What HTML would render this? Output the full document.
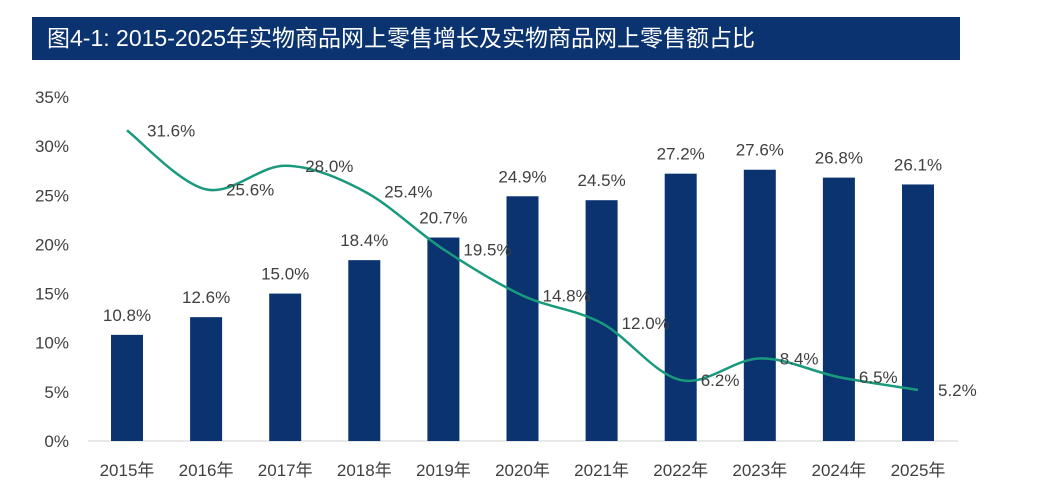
<!DOCTYPE html>
<html><head><meta charset="utf-8"><style>
body{margin:0;background:#fff;width:1053px;height:501px;overflow:hidden;font-family:"Liberation Sans","Noto Sans CJK SC",sans-serif}
#title{position:absolute;left:32px;top:17px;width:928px;height:43px;background:#0a3370;color:#fff;font-size:23px;line-height:43px;box-sizing:border-box;padding-left:15px}
svg{position:absolute;left:0;top:0}
text{font-family:"Liberation Sans","Noto Sans CJK SC",sans-serif;fill:#404040}
</style></head><body>
<div id="title">图4-1: 2015-2025年实物商品网上零售增长及实物商品网上零售额占比</div>
<svg id="chart" width="1053" height="501"></svg>
<script>
const categories=["2015年","2016年","2017年","2018年","2019年","2020年","2021年","2022年","2023年","2024年","2025年"];
const barValues=[10.8,12.6,15.0,18.4,20.7,24.9,24.5,27.2,27.6,26.8,26.1];
const lineValues=[31.6,25.6,28.0,25.4,19.5,14.8,12.0,6.2,8.4,6.5,5.2];
const yTicks=[0,5,10,15,20,25,30,35];
const NS="http://www.w3.org/2000/svg";
const svg=document.getElementById('chart');
const y=v=>441-v*(344/35);
const x=i=>127+i*79.1;
function el(t,a){const e=document.createElementNS(NS,t);for(const k in a)e.setAttribute(k,a[k]);svg.appendChild(e);return e;}
yTicks.forEach(t=>{const e=el('text',{x:69,y:y(t)+6,'text-anchor':'end','font-size':17});e.textContent=t+'%';

});
const ax=el('line',{x1:88,x2:958,y1:441,y2:441,stroke:'#d0d0d0','stroke-width':1});


categories.forEach((c,i)=>{
const b=el('rect',{x:x(i)-16,y:y(barValues[i]),width:32,height:441-y(barValues[i]),fill:'#0a3370'});


const bl=el('text',{x:x(i),y:y(barValues[i])-14,'text-anchor':'middle','font-size':17});bl.textContent=barValues[i].toFixed(1)+'%';


const xl=el('text',{x:x(i),y:476,'text-anchor':'middle','font-size':17});xl.textContent=c;


});
const pts=lineValues.map((v,i)=>[x(i),y(v)]);
let d='M'+pts[0][0]+','+pts[0][1];
for(let i=0;i<pts.length-1;i++){const p0=pts[Math.max(0,i-1)],p1=pts[i],p2=pts[i+1],p3=pts[Math.min(pts.length-1,i+2)];
const c1=[p1[0]+(p2[0]-p0[0])/6,p1[1]+(p2[1]-p0[1])/6],c2=[p2[0]-(p3[0]-p1[0])/6,p2[1]-(p3[1]-p1[1])/6];
d+=` C${c1[0]},${c1[1]} ${c2[0]},${c2[1]} ${p2[0]},${p2[1]}`;}
const ln=el('path',{d:d,fill:'none',stroke:'#1a9a7c','stroke-width':2.5});


lineValues.forEach((v,i)=>{const t=el('text',{x:x(i)+20,y:y(v)+6,'font-size':17});t.textContent=v.toFixed(1)+'%';

});
</script>
</body></html>
